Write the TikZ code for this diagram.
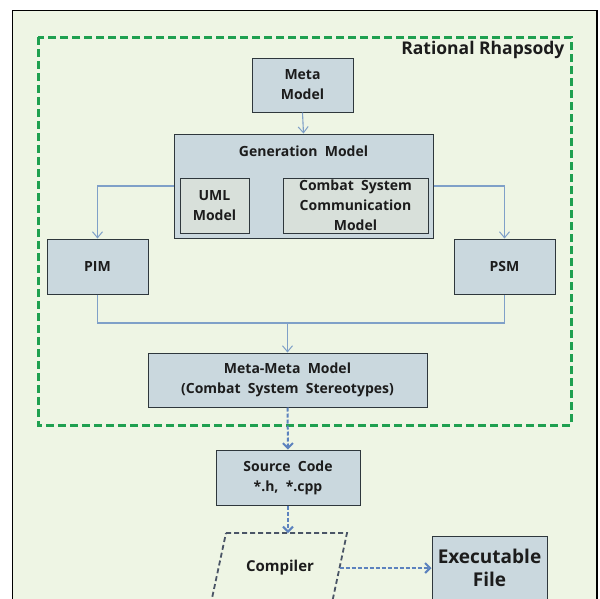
\documentclass[tikz,border=0pt]{standalone}
\usepackage{fontspec}
\setmainfont{Open Sans}
\usetikzlibrary{arrows.meta}
\definecolor{paper}{HTML}{EEF5E4}
\definecolor{boxfill}{HTML}{CAD8DE}
\definecolor{innerfill}{HTML}{D8E0DA}
\definecolor{boxline}{HTML}{2E373C}
\definecolor{flowline}{HTML}{7FA0C8}
\definecolor{codeline}{HTML}{5C82BE}
\definecolor{toolgreen}{HTML}{1FA050}
\definecolor{compline}{HTML}{4A5566}
\definecolor{ink}{HTML}{1C1C1C}
\tikzset{
  model/.style={draw=boxline, line width=1pt, fill=boxfill, align=center,
    inner sep=0pt, text=ink, font=\fontsize{14}{20}\selectfont\bfseries},
  inner/.style={model, fill=innerfill},
  flow/.style={draw=flowline, line width=1.1pt, -{Straight Barb[length=6pt,width=10pt,line width=1pt]}},
  codeflow/.style={draw=codeline, line width=2pt, dash pattern=on 4pt off 2pt,
    -{Straight Barb[length=5pt,width=10pt,line width=2pt]}},
}
\begin{document}
\begin{tikzpicture}[x=1pt,y=-1pt]
\useasboundingbox (0,0) rectangle (600,598);
\fill[white] (0,0) rectangle (600,598);
\begin{scope}
\clip (0,0) rectangle (600,598);
% page frame
\draw[fill=paper, line width=1.2pt] (12.5,10.5) rectangle (597,620);
% compiler step, a dashed parallelogram running past the lower edge
\draw[draw=compline, line width=1.8pt, dash pattern=on 5pt off 3pt]
  (226,533) -- (347,533) -- (332,603) -- (211,603) -- cycle;
\end{scope}
% tool boundary
\draw[toolgreen, line width=3pt, dash pattern=on 8pt off 4pt] (38,37) rectangle (571,425);
\node[anchor=east, text=ink, font=\fontsize{17.5}{20}\selectfont\bfseries] (tool) at (568,50) {Rational Rhapsody};

% model boxes
\node[model, minimum width=101pt, minimum height=54pt] (meta) at (302.5,85) {Meta\\Model};
\node[model, minimum width=259pt, minimum height=104pt] (gen) at (303.5,186) {};
\node[text=ink, font=\fontsize{14}{20}\selectfont\bfseries] (gentitle) at (303.5,151) {Generation~~Model};
\node[inner, minimum width=69pt, minimum height=55pt] (uml) at (214.5,205.5) {UML\\Model};
\node[inner, minimum width=145pt, minimum height=55pt] (cscm) at (355.5,205.5) {Combat~~System\\Communication\\Model};
\node[model, minimum width=101pt, minimum height=55pt] (pim) at (97.5,266.5) {PIM};
\node[model, minimum width=101pt, minimum height=55pt] (psm) at (504.5,266.5) {PSM};
\node[model, minimum width=279pt, minimum height=54pt] (mm) at (287.5,380) {Meta-Meta~~Model\\(Combat~~System~~Stereotypes)};
\node[model, minimum width=144pt, minimum height=55pt] (src) at (288,477.5) {Source~~Code\\*.h,~~*.cpp};
\node[text=ink, font=\fontsize{15}{18}\selectfont\bfseries] (comp) at (280,568) {Compiler};
\coordinate (comptop) at (288,533);
\coordinate (compright) at (339.5,568);
\node[model, minimum width=115pt, minimum height=64pt,
  font=\fontsize{19}{23}\selectfont\bfseries] (exe) at (489.5,568) {Executable\\File};

% connectors
\coordinate (join) at (287.5,323);
\draw[flow] (meta.south) -- (gen.north);
\draw[flow] (gen.west) -| (pim.north);
\draw[flow] (gen.east) -| (psm.north);
\draw[draw=flowline, line width=1.1pt] (pim.south) |- (join) -| (psm.south);
\draw[flow] (join) -- (mm.north);
\draw[codeflow] (mm.south) -- (src.north);
\draw[codeflow] (src.south) -- (comptop);
\draw[codeflow] (compright) -- (exe.west);
\end{tikzpicture}
\end{document}
